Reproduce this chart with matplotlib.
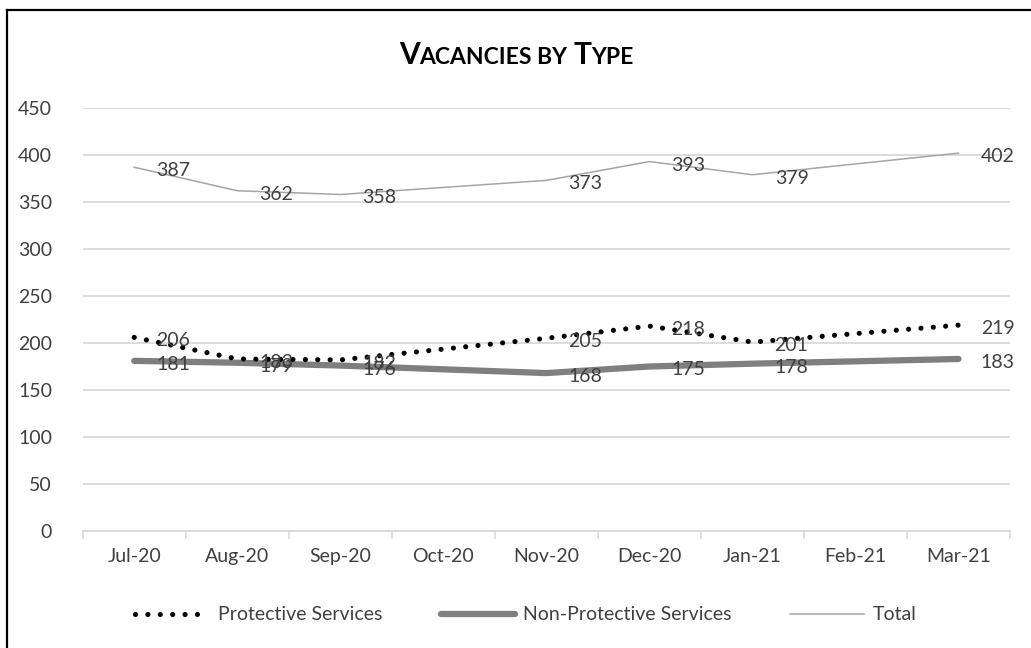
import matplotlib.pyplot as plt
import numpy as np
from matplotlib.lines import Line2D
from matplotlib.offsetbox import TextArea, HPacker, AnchoredOffsetbox

plt.rcParams['font.family'] = ['Lato', 'DejaVu Sans']

months = ['Jul-20', 'Aug-20', 'Sep-20', 'Oct-20', 'Nov-20',
          'Dec-20', 'Jan-21', 'Feb-21', 'Mar-21']
# months with data (Oct-20 and Feb-21 are blank, lines join across)
data_months = ['Jul-20', 'Aug-20', 'Sep-20', 'Nov-20', 'Dec-20', 'Jan-21', 'Mar-21']
protective = [206, 183, 182, 205, 218, 201, 219]
non_protective = [181, 179, 176, 168, 175, 178, 183]
total = [387, 362, 358, 373, 393, 379, 402]

TXT = '#404040'
GRID = '#d9d9d9'
FS = 14

fig = plt.figure(figsize=(10.31, 6.48), dpi=100)
ax = fig.add_axes([82.7 / 1031, 1 - 531 / 648, (1010 - 82.7) / 1031, (531 - 108) / 648])

x = np.array([months.index(m) for m in data_months])

ax.plot(x, protective, color='black', lw=3.7, linestyle=(0, (0.01, 2.4)),
        dash_capstyle='round', label='Protective Services', zorder=3)
ax.plot(x, non_protective, color='#7f7f7f', lw=4.5, solid_capstyle='round',
        label='Non-Protective Services', zorder=2)
ax.plot(x, total, color='#a5a5a5', lw=1.1, label='Total', zorder=2)

# data labels, Excel "right" position
for series in (protective, non_protective, total):
    for xi, v in zip(x, series):
        ax.annotate(str(v), (xi, v), xytext=(16, -2.5), textcoords='offset points',
                    ha='left', va='center', fontsize=FS, color=TXT, zorder=4)

ax.set_xlim(-0.5, len(months) - 0.5)
ax.set_ylim(0, 450)
ax.set_yticks(np.arange(0, 451, 50))
ax.set_xticks(range(len(months)))
ax.set_xticklabels(months)
ax.set_xticks(np.arange(-0.5, len(months), 1), minor=True)
ax.tick_params(axis='x', which='major', length=0, pad=12, labelsize=FS, labelcolor=TXT)
ax.tick_params(axis='x', which='minor', length=6, width=1.2, color=GRID)
ax.tick_params(axis='y', length=0, pad=22, labelsize=FS, labelcolor=TXT)
ax.grid(axis='y', color=GRID, lw=1.3)
ax.set_axisbelow(True)
for s in ['top', 'right', 'left']:
    ax.spines[s].set_visible(False)
ax.spines['bottom'].set_color(GRID)
ax.spines['bottom'].set_linewidth(1.3)

# small caps title
parts = [('V', 21.5), ('ACANCIES BY ', 16.5), ('T', 21.5), ('YPE', 16.5)]
boxes = [TextArea(s, textprops=dict(fontsize=fs, fontweight='bold', color='black'))
         for s, fs in parts]
title = HPacker(children=boxes, align='baseline', pad=0, sep=0)
fig.add_artist(AnchoredOffsetbox(loc='center', child=title, pad=0, frameon=False,
                                 bbox_to_anchor=(516 / 1031, 1 - 55 / 648),
                                 bbox_transform=fig.transFigure))

fig.legend(loc='center', bbox_to_anchor=(526 / 1031, 1 - 615 / 648), ncol=3,
           frameon=False, fontsize=FS, labelcolor=TXT, handlelength=3.8,
           handletextpad=0.45, columnspacing=3.0)

# chart frame
fig.add_artist(Line2D([7 / 1031, 7 / 1031], [0, 1 - 10 / 648], color='black', lw=1.6,
                      transform=fig.transFigure))
fig.add_artist(Line2D([7 / 1031, 1], [1 - 10 / 648, 1 - 10 / 648], color='black', lw=1.6,
                      transform=fig.transFigure))

fig.savefig('out.png', dpi=100)
